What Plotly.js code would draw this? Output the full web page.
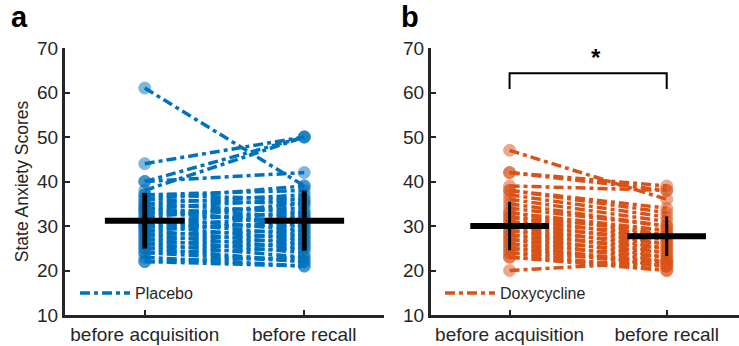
<!DOCTYPE html>
<html>
<head>
<meta charset="utf-8">
<script src="https://cdn.plot.ly/plotly-3.0.1.min.js"></script>
<style>html,body{margin:0;padding:0;background:#fff;}#chart{width:739px;height:346px;}</style>
</head>
<body>
<div id="chart"></div>
<script>
// Conditions (x tick labels)
const conditions = ["before acquisition", "before recall"];
const groupNames = ["Placebo", "Doxycycline"];

// Placebo: per-subject scores (paired)
const placeboBeforeAcq = [61,44,40,40,38,37,37,36,36,35,35,34,34,34,33,33,32,32,31,31,30,30,30,29,29,28,28,27,27,26,26,25,25,24,24,23,22,22];
const placeboBeforeRecall = [39,50,50,42,50,38,36,39,35,37,33,36,32,30,34,31,35,29,33,28,32,27,30,31,26,29,25,28,24,27,23,26,22,25,22,21,21,23];

// Doxycycline: per-subject scores (paired)
const doxyBeforeAcq = [47,42,42,39,38,38,37,36,35,34,33,33,32,32,31,31,30,30,29,29,28,28,27,27,26,26,25,25,24,24,23,23,20];
const doxyBeforeRecall = [36,39,38,38,34,33,32,31,30,30,29,28,29,27,28,26,27,25,26,24,25,23,24,22,23,21,22,21,20,22,21,20,22];

// Group mean and SD as drawn (before acquisition, before recall)
const placeboMean = [31.2, 31.2];
const placeboSD = [6.25, 6.75];
const doxyMean = [30.0, 27.7];
const doxySD = [5.45, 4.45];

// Significance bracket (panel b)
const bracketY = [60.8, 64.3];
const starY = 67.8;

const blue = "#0072BD", orange = "#D95319";
const txt = "#262626";
const dashPat = "10px,4px,4px,4px";

function pairLines(a, b) {
  const x = [], y = [];
  for (let i = 0; i < a.length; i++) { x.push(1, 2, null); y.push(a[i], b[i], null); }
  return {x, y};
}
function pts(a, b) {
  const x = [], y = [];
  for (let i = 0; i < a.length; i++) { x.push(1, 2); y.push(a[i], b[i]); }
  return {x, y};
}

const traces = [];
function addGroup(a, b, mean, sd, color, name, xa, ya, leg, vw) {
  const L = pairLines(a, b);
  traces.push({x: L.x, y: L.y, xaxis: xa, yaxis: ya, mode: "lines", name: name, legend: leg,
    line: {color: color, width: 3.5, dash: dashPat}, connectgaps: false, hoverinfo: "skip"});
  const P = pts(a, b);
  traces.push({x: P.x, y: P.y, xaxis: xa, yaxis: ya, mode: "markers", showlegend: false,
    marker: {size: 12, color: color, opacity: 0.5, line: {color: color, width: 1}}});
  for (let k = 0; k < 2; k++) {
    const xc = k + 1;
    traces.push({x: [xc - 0.25, xc + 0.25], y: [mean[k], mean[k]], xaxis: xa, yaxis: ya, mode: "lines",
      showlegend: false, line: {color: "#000", width: 6}});
    traces.push({x: [xc, xc], y: [mean[k] - sd[k], mean[k] + sd[k]], xaxis: xa, yaxis: ya, mode: "lines",
      showlegend: false, line: {color: "#000", width: vw}});
  }
}
addGroup(placeboBeforeAcq, placeboBeforeRecall, placeboMean, placeboSD, blue, groupNames[0], "x", "y", "legend", 5);
addGroup(doxyBeforeAcq, doxyBeforeRecall, doxyMean, doxySD, orange, groupNames[1], "x2", "y2", "legend2", 3);

traces.push({x: [1, 1, 2, 2], y: [bracketY[0], bracketY[1], bracketY[1], bracketY[0]], xaxis: "x2", yaxis: "y2",
  mode: "lines", showlegend: false, line: {color: "#000", width: 2}});

const xCommon = {
  range: [0.5, 2.5], tickvals: [1, 2], ticktext: conditions, showline: true, linewidth: 3, linecolor: txt,
  ticks: "inside", ticklen: 5, tickwidth: 2, tickcolor: txt, showgrid: false, zeroline: false,
  tickfont: {family: "Liberation Sans, Arial, sans-serif", size: 19, color: txt}, fixedrange: true
};
const yCommon = {
  range: [10, 70], dtick: 10, tick0: 10, showline: true, linewidth: 3, linecolor: txt,
  ticks: "inside", ticklen: 5, tickwidth: 2, tickcolor: txt, showgrid: false, zeroline: false,
  tickfont: {family: "Liberation Sans, Arial, sans-serif", size: 19, color: txt}, fixedrange: true
};

const layout = {
  width: 739, height: 346,
  margin: {l: 0, r: 0, t: 0, b: 0},
  paper_bgcolor: "#fff", plot_bgcolor: "#fff",
  font: {family: "Liberation Sans, Arial, sans-serif", color: txt},
  xaxis: Object.assign({}, xCommon, {domain: [65/739, 384/739]}),
  yaxis: Object.assign({}, yCommon, {domain: [1 - 315/346, 1 - 48/346],
    title: {text: "State Anxiety Scores", font: {size: 17.5, color: txt}, standoff: 4}}),
  xaxis2: Object.assign({}, xCommon, {domain: [431/739, 1], range: [0.5, 2.46], anchor: "y2"}),
  yaxis2: Object.assign({}, yCommon, {domain: [1 - 315/346, 1 - 48/346], anchor: "x2"}),
  legend: {x: 75/739, y: 1 - 293/346, xanchor: "left", yanchor: "middle", bgcolor: "rgba(0,0,0,0)",
    font: {size: 16, color: txt}, itemwidth: 50},
  legend2: {x: 440/739, y: 1 - 293/346, xanchor: "left", yanchor: "middle", bgcolor: "rgba(0,0,0,0)",
    font: {size: 16, color: txt}, itemwidth: 50},
  annotations: [
    {text: "<b>a</b>", xref: "paper", yref: "paper", x: 10/739, y: 1, xanchor: "left", yanchor: "top",
      showarrow: false, borderpad: 0, font: {size: 29, color: "#000"}},
    {text: "<b>b</b>", xref: "paper", yref: "paper", x: 400/739, y: 1, xanchor: "left", yanchor: "top",
      showarrow: false, borderpad: 0, font: {size: 29, color: "#000"}},
    {text: "<b>*</b>", xref: "x2", yref: "y2", x: 1.55, y: starY, showarrow: false,
      font: {size: 24, color: "#000"}}
  ],
  showlegend: true
};

Plotly.newPlot("chart", traces, layout, {staticPlot: true, displayModeBar: false});
</script>
</body>
</html>
